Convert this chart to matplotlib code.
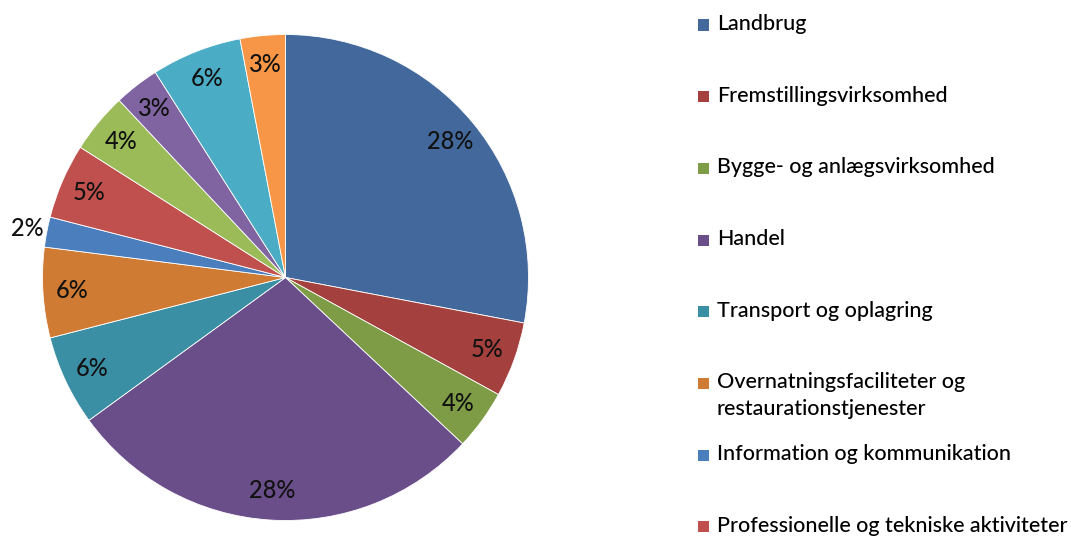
import matplotlib
matplotlib.use("Agg")
import matplotlib.pyplot as plt
from matplotlib.patches import Rectangle
import numpy as np

categories = [
    "Landbrug",
    "Fremstillingsvirksomhed",
    "Bygge- og anlægsvirksomhed",
    "Handel",
    "Transport og oplagring",
    "Overnatningsfaciliteter og\nrestaurationstjenester",
    "Information og kommunikation",
    "Professionelle og tekniske aktiviteter",
    "Administrative tjenester",
    "Undervisning",
    "Sundhed og socialvæsen",
    "Kultur og fritid",
]
values = [28, 5, 4, 28, 6, 6, 2, 5, 4, 3, 6, 3]
colors = ["#43699C", "#A4403D", "#7E9C45", "#6A4E8A", "#3A8FA5", "#D07B34",
          "#4A7EBD", "#C0504D", "#9BBB59", "#8064A2", "#4BACC6", "#F79646"]
legend_shown = 8

W, H = 1071, 538
fig = plt.figure(figsize=(W / 100, H / 100), dpi=100)
fig.patch.set_facecolor("white")

cx, cy, r = 285.5, 277.5, 243
ax = fig.add_axes([(cx - r) / W, (H - cy - r) / H, 2 * r / W, 2 * r / H])
wedges, _ = ax.pie(values, colors=colors, startangle=90, counterclock=False,
                   wedgeprops=dict(edgecolor="white", linewidth=0.6))
ax.set_aspect("equal")
ax.set_xlim(-1, 1)
ax.set_ylim(-1, 1)

font = "Lato"
for w, v in zip(wedges, values):
    ang = np.deg2rad((w.theta1 + w.theta2) / 2)
    d = 1.08 if v <= 2 else 0.88
    ax.text(d * np.cos(ang), d * np.sin(ang), f"{v}%", ha="center", va="center",
            fontsize=17, family=font, color="#111111", fontweight="medium")

# legend (manual, matching the Excel layout)
y0, step = 25, 71.7
for i in range(legend_shown):
    yc = y0 + i * step
    fig.add_artist(Rectangle((698 / W, 1 - (yc + 5.5) / H), 11 / W, 11 / H,
                             transform=fig.transFigure, facecolor=colors[i],
                             edgecolor="none"))
    fig.text(717 / W, 1 - (yc - 11) / H, categories[i], ha="left", va="top",
             fontsize=15.5, family=font, color="black", linespacing=1.4,
             fontweight="medium")

fig.savefig("out.png", dpi=100, facecolor="white")
